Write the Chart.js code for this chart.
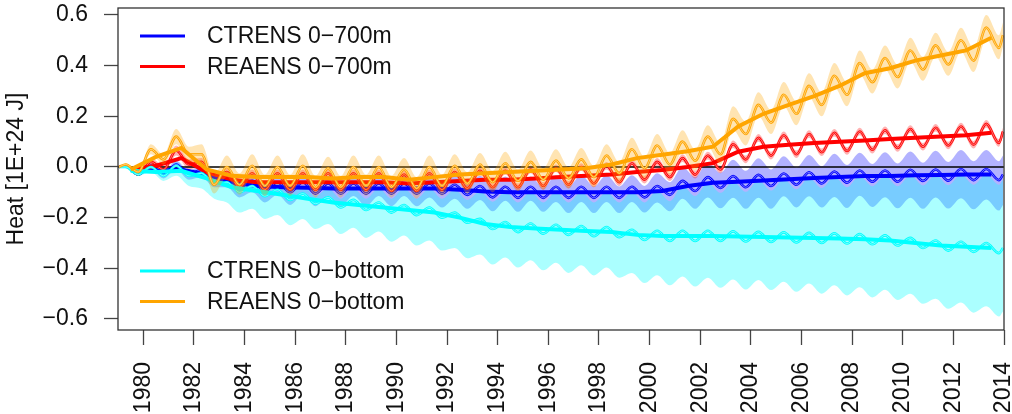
<!DOCTYPE html>
<html>
<head>
<meta charset="utf-8">
<script src="https://cdn.jsdelivr.net/npm/chart.js@4.4.1/dist/chart.umd.min.js"></script>
<style>
  html, body { margin: 0; padding: 0; background: #fff; }
  #wrap { width: 1012px; height: 414px; position: relative; }
</style>
</head>
<body>
<div id="wrap"><canvas id="heatChart"></canvas></div>
<script>
// Heat content, 1E+24 J. Annual means at mid-year, seasonal highs/lows, ensemble spread.
const years = [1979, 1980, 1981, 1982, 1983, 1984, 1985, 1986, 1987, 1988, 1989, 1990,
  1991, 1992, 1993, 1994, 1995, 1996, 1997, 1998, 1999, 2000, 2001, 2002, 2003, 2004,
  2005, 2006, 2007, 2008, 2009, 2010, 2011, 2012, 2013];
const xTicks = [1980, 1982, 1984, 1986, 1988, 1990, 1992, 1994, 1996, 1998, 2000, 2002,
  2004, 2006, 2008, 2010, 2012, 2014];
const yTicks = [-0.6, -0.4, -0.2, 0, 0.2, 0.4, 0.6];
const zeroLineX = [1979, 2014];

// REAENS 0-bottom (orange)
const orangeMean = [-0.01, 0.04, 0.075, -0.01, -0.035, -0.04, -0.04, -0.04, -0.045, -0.04, -0.04, -0.05,
  -0.04, -0.03, -0.025, -0.02, -0.015, -0.01, -0.005, 0.01, 0.035, 0.048, 0.062, 0.08, 0.16, 0.21,
  0.245, 0.28, 0.32, 0.37, 0.39, 0.42, 0.44, 0.46, 0.51];
const orangePeak = [0.01, 0.07, 0.12, 0.05, 0.0, 0.005, 0.0, 0.005, -0.005, 0.0, 0.0, -0.01,
  0.0, 0.005, 0.01, 0.015, 0.02, 0.025, 0.03, 0.045, 0.07, 0.085, 0.1, 0.12, 0.19, 0.245,
  0.285, 0.32, 0.36, 0.41, 0.43, 0.46, 0.48, 0.5, 0.55];
const orangeTrough = [-0.02, 0.03, 0.05, -0.07, -0.07, -0.075, -0.075, -0.08, -0.08, -0.075, -0.08, -0.085,
  -0.075, -0.065, -0.06, -0.055, -0.05, -0.045, -0.04, -0.025, -0.005, 0.01, 0.025, 0.05, 0.13, 0.175,
  0.21, 0.245, 0.285, 0.335, 0.355, 0.385, 0.405, 0.42, 0.47];
const orangeEnds = [0.0, 0.52];
const orangeUp = [0.005, 0.02, 0.03, 0.04, 0.045, 0.045, 0.045, 0.045, 0.045, 0.045, 0.045, 0.045,
  0.045, 0.045, 0.045, 0.045, 0.045, 0.045, 0.045, 0.045, 0.045, 0.045, 0.045, 0.045, 0.05, 0.05,
  0.05, 0.05, 0.05, 0.05, 0.05, 0.05, 0.05, 0.05, 0.05];
const orangeDn = [0.005, 0.02, 0.03, 0.035, 0.04, 0.04, 0.04, 0.04, 0.04, 0.04, 0.04, 0.04,
  0.04, 0.04, 0.04, 0.04, 0.04, 0.04, 0.04, 0.04, 0.04, 0.04, 0.04, 0.04, 0.045, 0.045,
  0.045, 0.045, 0.045, 0.045, 0.045, 0.045, 0.045, 0.045, 0.045];

// REAENS 0-700m (red)
const redMean = [-0.01, 0.005, 0.035, -0.02, -0.05, -0.06, -0.06, -0.06, -0.06, -0.06, -0.06, -0.065,
  -0.06, -0.055, -0.05, -0.05, -0.045, -0.04, -0.035, -0.03, -0.02, -0.012, 0.0, 0.015, 0.06, 0.08,
  0.088, 0.095, 0.1, 0.105, 0.11, 0.115, 0.12, 0.125, 0.135];
const redPeak = [0.005, 0.02, 0.065, 0.02, -0.02, -0.025, -0.025, -0.025, -0.025, -0.025, -0.025, -0.03,
  -0.025, -0.02, -0.015, -0.015, -0.01, -0.005, 0.0, 0.005, 0.015, 0.02, 0.035, 0.045, 0.09, 0.115,
  0.125, 0.13, 0.135, 0.14, 0.145, 0.15, 0.155, 0.16, 0.17];
const redTrough = [-0.03, -0.01, 0.01, -0.06, -0.08, -0.09, -0.09, -0.09, -0.09, -0.09, -0.095, -0.095,
  -0.09, -0.085, -0.08, -0.08, -0.075, -0.07, -0.065, -0.06, -0.05, -0.04, -0.03, -0.01, 0.03, 0.045,
  0.05, 0.058, 0.063, 0.068, 0.075, 0.08, 0.085, 0.088, 0.095];
const redEnds = [0.0, 0.14];
const redUp = [0.005, 0.015, 0.02, 0.015, 0.015, 0.015, 0.015, 0.015, 0.015, 0.015, 0.015, 0.015,
  0.015, 0.015, 0.015, 0.015, 0.015, 0.015, 0.015, 0.015, 0.015, 0.015, 0.015, 0.015, 0.015, 0.015,
  0.015, 0.015, 0.015, 0.015, 0.015, 0.015, 0.015, 0.015, 0.015];
const redDn = redUp;

// CTRENS 0-700m (blue)
const blueMean = [-0.01, -0.015, -0.01, -0.03, -0.06, -0.075, -0.08, -0.082, -0.085, -0.085, -0.085, -0.085,
  -0.085, -0.09, -0.097, -0.1, -0.1, -0.1, -0.1, -0.1, -0.1, -0.095, -0.075, -0.062, -0.058, -0.053,
  -0.048, -0.043, -0.04, -0.036, -0.036, -0.033, -0.032, -0.03, -0.03];
const bluePeak = [0.005, 0.005, 0.01, -0.01, -0.04, -0.055, -0.06, -0.06, -0.065, -0.065, -0.065, -0.065,
  -0.065, -0.07, -0.075, -0.078, -0.078, -0.078, -0.078, -0.078, -0.078, -0.075, -0.055, -0.04, -0.036, -0.031,
  -0.026, -0.021, -0.018, -0.014, -0.014, -0.011, -0.01, -0.008, -0.008];
const blueTrough = [-0.03, -0.03, -0.03, -0.05, -0.08, -0.095, -0.1, -0.105, -0.105, -0.105, -0.105, -0.105,
  -0.105, -0.11, -0.12, -0.122, -0.122, -0.122, -0.122, -0.122, -0.12, -0.11, -0.095, -0.083, -0.08, -0.075,
  -0.07, -0.065, -0.062, -0.058, -0.058, -0.055, -0.054, -0.052, -0.052];
const blueEnds = [0.0, -0.03];
const blueUp = [0.005, 0.01, 0.015, 0.02, 0.025, 0.03, 0.03, 0.03, 0.03, 0.03, 0.03, 0.03,
  0.04, 0.04, 0.04, 0.04, 0.04, 0.045, 0.045, 0.045, 0.045, 0.05, 0.055, 0.06, 0.065, 0.065,
  0.068, 0.068, 0.07, 0.07, 0.072, 0.072, 0.074, 0.075, 0.075];
const blueDn = [0.005, 0.015, 0.02, 0.03, 0.04, 0.045, 0.05, 0.05, 0.05, 0.05, 0.05, 0.05,
  0.055, 0.055, 0.055, 0.055, 0.055, 0.06, 0.06, 0.06, 0.06, 0.065, 0.07, 0.08, 0.085, 0.09,
  0.09, 0.095, 0.1, 0.1, 0.105, 0.11, 0.11, 0.115, 0.12];

// CTRENS 0-bottom (cyan)
const cyanMean = [-0.015, -0.02, -0.015, -0.045, -0.08, -0.095, -0.11, -0.125, -0.14, -0.15, -0.16, -0.17,
  -0.18, -0.2, -0.225, -0.237, -0.243, -0.248, -0.253, -0.257, -0.268, -0.272, -0.272, -0.272, -0.274, -0.276,
  -0.278, -0.28, -0.282, -0.285, -0.29, -0.3, -0.31, -0.315, -0.32];
const cyanPeak = [0.0, 0.0, 0.005, -0.025, -0.06, -0.075, -0.09, -0.105, -0.12, -0.13, -0.14, -0.15,
  -0.16, -0.18, -0.205, -0.217, -0.223, -0.228, -0.233, -0.237, -0.248, -0.252, -0.252, -0.252, -0.254, -0.256,
  -0.258, -0.26, -0.262, -0.265, -0.27, -0.28, -0.29, -0.295, -0.3];
const cyanTrough = [-0.03, -0.035, -0.035, -0.065, -0.1, -0.115, -0.13, -0.145, -0.16, -0.17, -0.18, -0.19,
  -0.2, -0.22, -0.245, -0.257, -0.263, -0.268, -0.273, -0.277, -0.288, -0.292, -0.292, -0.292, -0.294, -0.296,
  -0.298, -0.3, -0.302, -0.305, -0.31, -0.32, -0.33, -0.335, -0.34];
const cyanEnds = [0.0, -0.32];
const cyanUp = [0.005, 0.01, 0.015, 0.02, 0.025, 0.025, 0.025, 0.03, 0.035, 0.045, 0.055, 0.065,
  0.075, 0.09, 0.108, 0.117, 0.123, 0.128, 0.133, 0.137, 0.148, 0.157, 0.177, 0.19, 0.196, 0.203,
  0.21, 0.217, 0.222, 0.229, 0.234, 0.247, 0.258, 0.265, 0.27];
const cyanDn = [0.005, 0.02, 0.04, 0.06, 0.08, 0.09, 0.1, 0.1, 0.105, 0.11, 0.115, 0.12,
  0.13, 0.14, 0.14, 0.14, 0.145, 0.15, 0.155, 0.16, 0.17, 0.175, 0.18, 0.185, 0.19, 0.19,
  0.195, 0.2, 0.205, 0.21, 0.215, 0.22, 0.23, 0.24, 0.25];

const legendTop = [
  { label: 'CTRENS 0\u2212700m', color: '#0000ff' },
  { label: 'REAENS 0\u2212700m', color: '#ff0000' }
];
const legendBottom = [
  { label: 'CTRENS 0\u2212bottom', color: '#00ffff' },
  { label: 'REAENS 0\u2212bottom', color: '#ffa500' }
];

const FONT = '"Liberation Sans", Arial, Helvetica, sans-serif';
const startTime = 1979.04, endTime = 2013.96;
const peakPhase = 0.3, troughPhase = 0.8;

function seasonal(peak, trough, ends) {
  const pts = [{ x: startTime, y: ends[0] }];
  years.forEach((yr, i) => {
    pts.push({ x: yr + peakPhase, y: peak[i] });
    pts.push({ x: yr + troughPhase, y: trough[i] });
  });
  pts.push({ x: endTime, y: ends[1] });
  return pts;
}

// band edge = seasonal line +/- that year's ensemble spread
function shifted(points, spread, sign) {
  return points.map((p, k) => {
    const i = Math.min(years.length - 1, Math.floor(p.x) - years[0]);
    const s = k === 0 ? 0 : spread[i];
    return { x: p.x, y: p.y + sign * s };
  });
}

function annual(mean) {
  return years.map((yr, i) => ({ x: yr + 0.5, y: mean[i] }));
}

function bandSets(points, up, dn, fillColor, order) {
  return [
    { data: shifted(points, up, 1), borderColor: 'rgba(0,0,0,0)', borderWidth: 0, pointRadius: 0,
      fill: '+1', backgroundColor: fillColor, cubicInterpolationMode: 'monotone', order },
    { data: shifted(points, dn, -1), borderColor: 'rgba(0,0,0,0)', borderWidth: 0, pointRadius: 0,
      fill: false, cubicInterpolationMode: 'monotone', order }
  ];
}

function lineSets(points, mean, color, order) {
  return [
    { data: points, borderColor: color, borderWidth: 2.6, pointRadius: 0, fill: false,
      cubicInterpolationMode: 'monotone', order },
    { data: points, borderColor: 'rgba(255,255,255,0.5)', borderWidth: 0.9, pointRadius: 0, fill: false,
      cubicInterpolationMode: 'monotone', order: order - 0.5 },
    { data: annual(mean), borderColor: color, borderWidth: 4, pointRadius: 0, fill: false,
      tension: 0, order: order - 1 }
  ];
}

const orangePts = seasonal(orangePeak, orangeTrough, orangeEnds);
const redPts = seasonal(redPeak, redTrough, redEnds);
const bluePts = seasonal(bluePeak, blueTrough, blueEnds);
const cyanPts = seasonal(cyanPeak, cyanTrough, cyanEnds);

const datasets = [
  ...bandSets(bluePts, blueUp, blueDn, 'rgba(0,0,255,0.3)', 100),
  ...bandSets(redPts, redUp, redDn, 'rgba(255,0,0,0.3)', 96),
  ...bandSets(cyanPts, cyanUp, cyanDn, 'rgba(0,255,255,0.33)', 92),
  { data: zeroLineX.map(x => ({ x, y: 0 })), borderColor: '#000', borderWidth: 1.4, pointRadius: 0,
    fill: false, order: 88 },
  ...lineSets(bluePts, blueMean, '#0000ff', 80),
  ...lineSets(redPts, redMean, '#ff0000', 75),
  ...lineSets(cyanPts, cyanMean, '#00ffff', 70),
  ...bandSets(orangePts, orangeUp, orangeDn, 'rgba(255,165,0,0.3)', 60),
  ...lineSets(orangePts, orangeMean, '#ffa500', 55)
];

// plot box and the two legend blocks (no frame, like R's bty="n")
const boxAndLegend = {
  id: 'boxAndLegend',
  afterDraw(chart) {
    const { ctx, chartArea: a } = chart;
    ctx.save();
    ctx.strokeStyle = '#333';
    ctx.lineWidth = 1.3;
    ctx.strokeRect(a.left, a.top, a.right - a.left, a.bottom - a.top);

    const drawBlock = (items, y0) => {
      items.forEach((it, i) => {
        const y = y0 + i * 30.5;
        ctx.strokeStyle = it.color;
        ctx.lineWidth = 3;
        ctx.beginPath();
        ctx.moveTo(a.left + 22, y);
        ctx.lineTo(a.left + 67, y);
        ctx.stroke();
        ctx.fillStyle = '#111';
        ctx.font = '23px ' + FONT;
        ctx.textBaseline = 'middle';
        ctx.fillText(it.label, a.left + 89, y + 1);
      });
    };
    drawBlock(legendTop, a.top + 28);
    drawBlock(legendBottom, a.top + 263);
    ctx.restore();
  }
};

new Chart(document.getElementById('heatChart'), {
  type: 'line',
  data: { datasets },
  options: {
    responsive: true,
    maintainAspectRatio: false,
    animation: false,
    layout: { padding: { top: 8, right: 8, left: 0, bottom: 0 } },
    plugins: { legend: { display: false }, tooltip: { enabled: false } },
    scales: {
      x: {
        type: 'linear',
        min: 1979,
        max: 2014,
        afterBuildTicks: s => { s.ticks = xTicks.map(v => ({ value: v })); },
        afterFit: s => { s.height = 84; s.paddingLeft = 0; s.paddingRight = 0; },
        border: { display: false },
        grid: { drawOnChartArea: false, drawTicks: true, tickLength: 15, tickWidth: 1.3, tickColor: '#444' },
        ticks: {
          autoSkip: false, minRotation: 90, maxRotation: 90, padding: 17, color: '#111',
          font: { family: FONT, size: 23 },
          callback: v => String(v)
        }
      },
      y: {
        min: -0.6435,
        max: 0.6276,
        afterBuildTicks: s => { s.ticks = yTicks.map(v => ({ value: v })); },
        afterFit: s => { s.width = 118; s.paddingTop = 0; s.paddingBottom = 0; },
        border: { display: false },
        grid: { drawOnChartArea: false, drawTicks: true, tickLength: 14, tickWidth: 1.3, tickColor: '#444' },
        ticks: {
          padding: 16, color: '#111',
          font: { family: FONT, size: 23 },
          callback: v => v.toFixed(1).replace('-', '\u2212')
        },
        title: {
          display: true, text: 'Heat [1E+24 J]', color: '#111',
          font: { family: FONT, size: 23 }, padding: { top: 3, bottom: 0 }
        }
      }
    }
  },
  plugins: [boxAndLegend]
});
</script>
</body>
</html>
